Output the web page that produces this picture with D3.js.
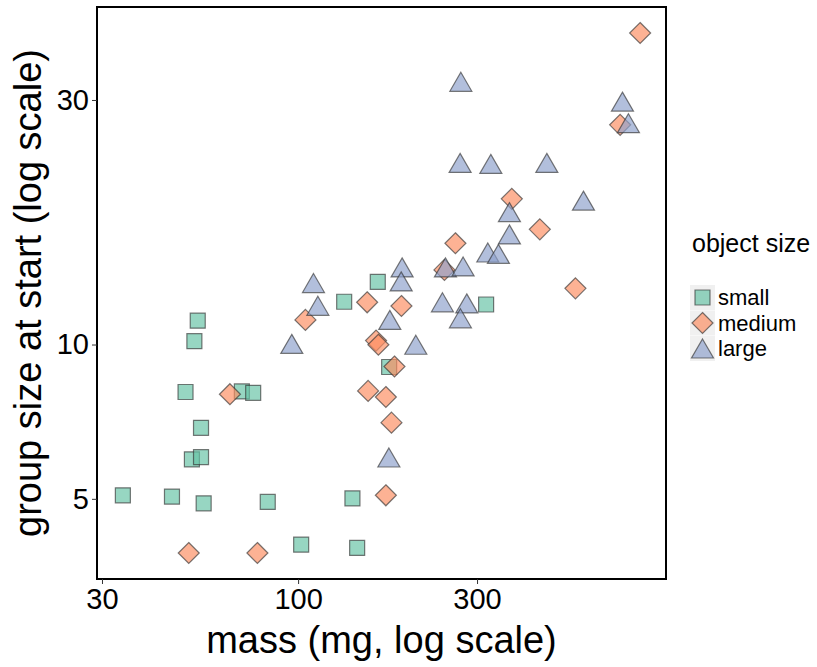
<!DOCTYPE html>
<html>
<head>
<meta charset="utf-8">
<script src="https://cdn.jsdelivr.net/npm/d3@7"></script>
<style>
  body { margin: 0; background: #fff; }
  text { font-family: "Liberation Sans", Arial, sans-serif; }
</style>
</head>
<body>
<div id="wrapper"></div>
<script>
// values
const sizeLevels = ["small", "medium", "large"]
const sizeColors = ["#66c2a5", "#fc8d62", "#8da0cb"]

const massSmall = [54.0, 52.9, 50.1, 70.8, 75.9, 55.1, 52.1, 55.1, 34.1, 46.1, 56.0, 83.0, 101.9, 143.7, 139.6, 174.9, 163.1, 132.7, 317.2]
const groupSmall = [11.13, 10.15, 8.08, 8.10, 8.05, 6.88, 5.97, 6.03, 5.08, 5.05, 4.90, 4.93, 4.07, 4.01, 5.01, 9.04, 13.25, 12.12, 11.97]

const massMedium = [65.8, 51.1, 77.9, 104.6, 152.8, 188.6, 161.4, 163.7, 180.7, 153.7, 171.4, 177.4, 171.4, 245.6, 262.7, 371.4, 441.1, 548.9, 722.3, 816.6]
const groupMedium = [8.00, 3.92, 3.92, 11.17, 12.09, 11.89, 10.18, 9.99, 9.06, 8.12, 7.90, 7.04, 5.08, 13.98, 15.76, 19.24, 16.78, 12.87, 26.83, 40.53]

const massLarge = [96.2, 109.9, 112.9, 175.6, 189.4, 188.3, 206.0, 174.6, 242.6, 247.1, 275.4, 281.7, 270.9, 320.5, 342.1, 366.0, 366.0, 271.6, 270.4, 326.5, 460.5, 576.6, 732.6, 760.0]
const groupLarge = [10.03, 13.18, 11.90, 11.17, 14.14, 13.28, 9.99, 6.02, 12.09, 14.14, 14.20, 12.03, 11.25, 15.12, 15.03, 16.40, 18.13, 32.55, 22.61, 22.51, 22.61, 19.09, 29.78, 27.03]

const xTicks = [30, 100, 300]
const yTicks = [5, 10, 30]

function drawScatter() {
  const dataset = []
  const addLevel = (masses, groups, size) => masses.forEach((m, i) => {
    dataset.push({ mass: m, group: groups[i], size: size })
  })
  addLevel(massSmall, groupSmall, "small")
  addLevel(massMedium, groupMedium, "medium")
  addLevel(massLarge, groupLarge, "large")

  const xAccessor = d => d.mass
  const yAccessor = d => d.group

  let dimensions = {
    width: 817,
    height: 667,
    margin: { top: 7, right: 151, bottom: 88, left: 97 },
  }
  dimensions.boundedWidth = dimensions.width - dimensions.margin.left - dimensions.margin.right
  dimensions.boundedHeight = dimensions.height - dimensions.margin.top - dimensions.margin.bottom

  const wrapper = d3.select("#wrapper")
    .append("svg")
      .attr("width", dimensions.width)
      .attr("height", dimensions.height)

  const bounds = wrapper.append("g")
      .attr("transform", `translate(${dimensions.margin.left},${dimensions.margin.top})`)

  // ggplot style 5% expansion in log space
  const logExpand = ext => {
    const lo = Math.log10(ext[0]), hi = Math.log10(ext[1])
    const pad = (hi - lo) * 0.05
    return [Math.pow(10, lo - pad), Math.pow(10, hi + pad)]
  }

  const xScale = d3.scaleLog()
    .domain(logExpand(d3.extent(dataset, xAccessor)))
    .range([0, dimensions.boundedWidth])

  const yScale = d3.scaleLog()
    .domain(logExpand(d3.extent(dataset, yAccessor)))
    .range([dimensions.boundedHeight, 0])

  const colorScale = d3.scaleOrdinal()
    .domain(sizeLevels)
    .range(sizeColors)

  // shape paths centred on 0,0
  const shapePath = {
    small: "M-7.5,-7.5H7.5V7.5H-7.5Z",
    medium: "M0,-10.5L10.5,0L0,10.5L-10.5,0Z",
    large: "M0,-9.5L11,9.5L-11,9.5Z",
  }

  bounds.selectAll("path.dot")
    .data(dataset)
    .join("path")
      .attr("class", "dot")
      .attr("d", d => shapePath[d.size])
      .attr("transform", d => `translate(${xScale(xAccessor(d))},${yScale(yAccessor(d))})`)
      .attr("fill", d => colorScale(d.size))
      .attr("fill-opacity", 0.68)
      .attr("stroke", "#333")
      .attr("stroke-opacity", 0.65)
      .attr("stroke-width", 1.2)

  // panel border
  bounds.append("rect")
    .attr("width", dimensions.boundedWidth)
    .attr("height", dimensions.boundedHeight)
    .attr("fill", "none")
    .attr("stroke", "#000")
    .attr("stroke-width", 2)

  // axes
  const xAxisGenerator = d3.axisBottom()
    .scale(xScale)
    .tickValues(xTicks)
    .tickFormat(d3.format("d"))
    .tickSize(5)
    .tickPadding(4)

  const xAxis = bounds.append("g")
    .attr("transform", `translate(0,${dimensions.boundedHeight})`)
    .call(xAxisGenerator)
  xAxis.select(".domain").remove()
  xAxis.selectAll(".tick line").attr("stroke", "#333")
  xAxis.selectAll(".tick text")
    .attr("fill", "#000")
    .style("font-size", "29px")
    .style("font-family", "Liberation Sans, Arial, sans-serif")

  xAxis.append("text")
    .attr("x", dimensions.boundedWidth / 2)
    .attr("y", dimensions.margin.bottom - 14)
    .attr("fill", "black")
    .style("font-size", "38px")
    .style("text-anchor", "middle")
    .text("mass (mg, log scale)")

  const yAxisGenerator = d3.axisLeft()
    .scale(yScale)
    .tickValues(yTicks)
    .tickFormat(d3.format("d"))
    .tickSize(5)
    .tickPadding(3)

  const yAxis = bounds.append("g")
    .call(yAxisGenerator)
  yAxis.select(".domain").remove()
  yAxis.selectAll(".tick line").attr("stroke", "#333")
  yAxis.selectAll(".tick text")
    .attr("fill", "#000")
    .style("font-size", "29px")
    .style("font-family", "Liberation Sans, Arial, sans-serif")

  yAxis.append("text")
    .attr("transform", "rotate(-90)")
    .attr("x", -dimensions.boundedHeight / 2)
    .attr("y", -dimensions.margin.left + 41)
    .attr("fill", "black")
    .style("font-size", "38px")
    .style("text-anchor", "middle")
    .text("group size at start (log scale)")

  // legend
  const legend = wrapper.append("g")
    .attr("transform", "translate(690,243)")

  legend.append("text")
    .attr("x", 2)
    .attr("y", 0)
    .attr("dy", "0.35em")
    .style("font-size", "25px")
    .text("object size")

  const keys = legend.selectAll("g.key")
    .data(sizeLevels)
    .join("g")
      .attr("class", "key")
      .attr("transform", (d, i) => `translate(0,${42 + i * 25.5})`)

  keys.append("rect")
    .attr("width", 25)
    .attr("height", 25)
    .attr("fill", "#f0f0f0")

  keys.append("path")
    .attr("transform", "translate(12.5,12.5)")
    .attr("d", d => shapePath[d])
    .attr("fill", d => colorScale(d))
    .attr("fill-opacity", 0.68)
    .attr("stroke", "#333")
    .attr("stroke-opacity", 0.65)
    .attr("stroke-width", 1.2)

  keys.append("text")
    .attr("x", 28)
    .attr("y", 12.5)
    .attr("dy", "0.35em")
    .style("font-size", "22px")
    .text(d => d)
}

drawScatter()
</script>
</body>
</html>
